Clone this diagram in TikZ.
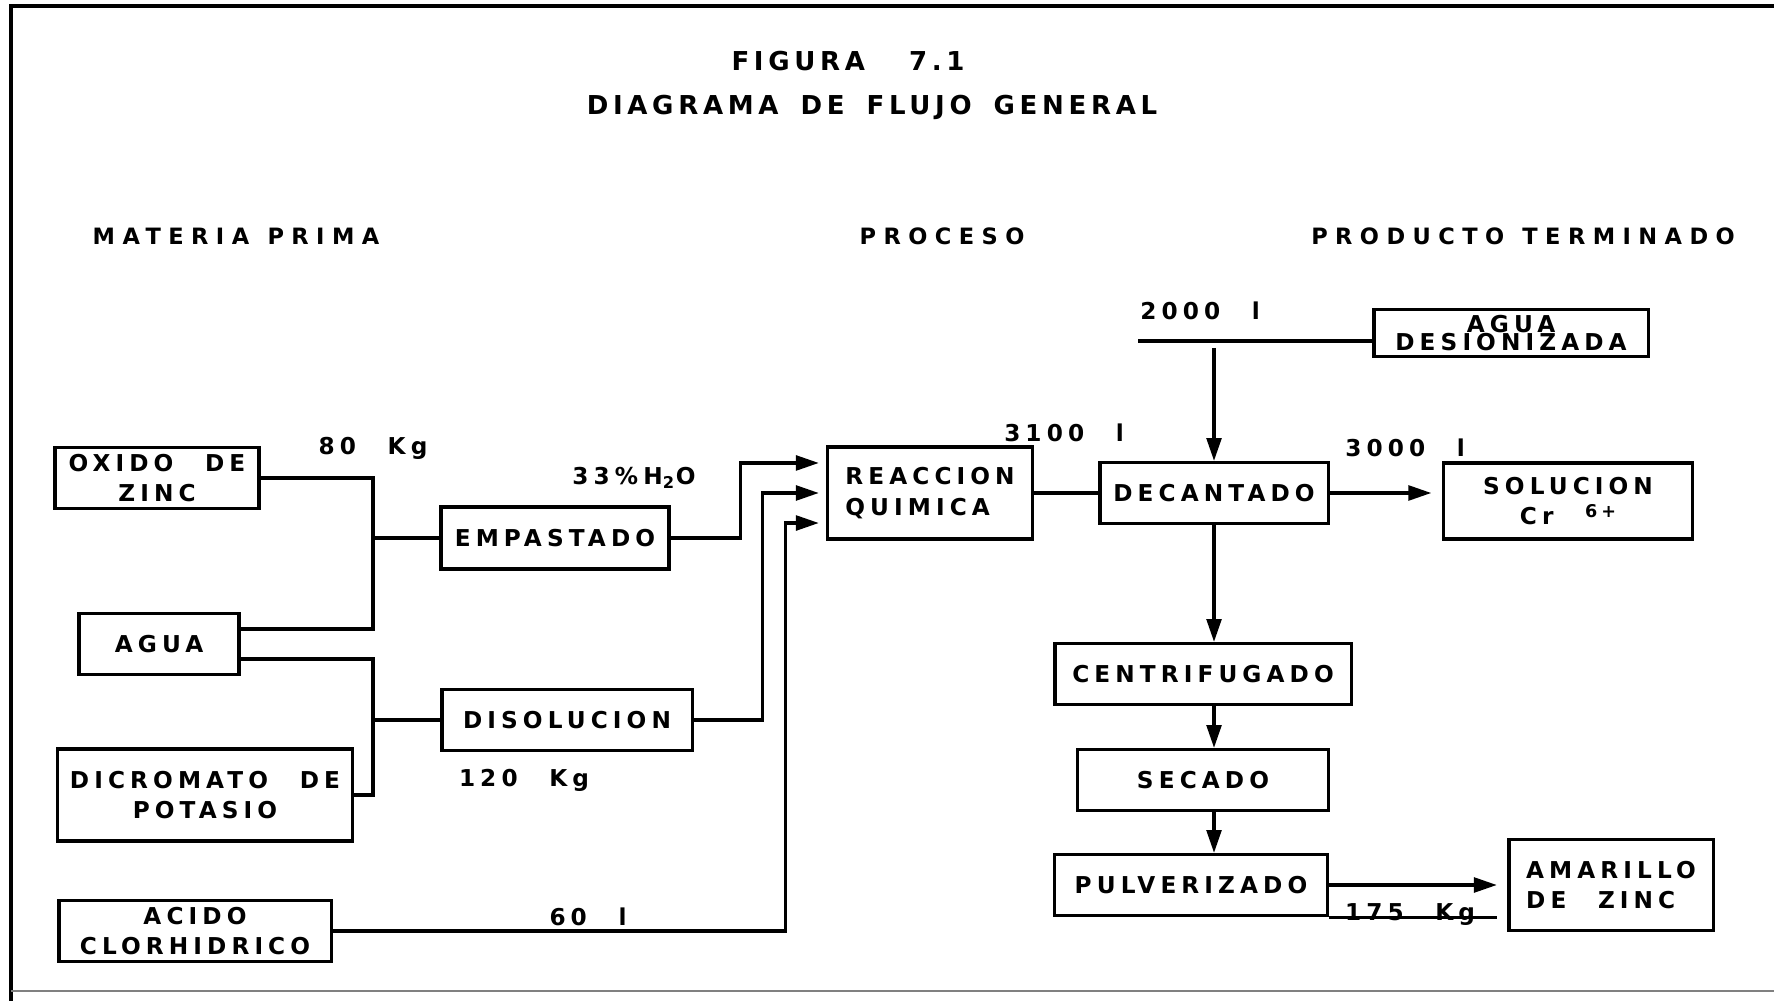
\documentclass[tikz,border=0pt]{standalone}
\usepackage{fontspec}
\usetikzlibrary{arrows.meta}
\newfontfamily\plotfont{DejaVu Sans}[LetterSpace=22, WordSpace=2.4]
\newfontfamily\headfont{DejaVu Sans}[LetterSpace=33, WordSpace=1.2]
\newfontfamily\titlefam{DejaVu Sans}[LetterSpace=18, WordSpace=1.6]
\newcommand{\boxfont}{\plotfont\bfseries\fontsize{6.6}{8.6}\selectfont}
\newcommand{\capfont}{\headfont\bfseries\fontsize{6.4}{8}\selectfont}
\newcommand{\titlefont}{\titlefam\bfseries\fontsize{7.4}{9}\selectfont}
\newcommand{\ionsup}[1]{\raisebox{0.55ex}{\fontsize{5}{6}\selectfont #1}}

\begin{document}
\begin{tikzpicture}[
    x=0.01cm, y=-0.01cm,
    unit/.style={draw, line width=0.9pt, inner sep=0pt, font=\boxfont, align=center},
    line/.style={line width=0.9pt},
    arr/.style={line, -{Triangle[length=6.5pt, width=4.2pt]}},
    qty/.style={font=\boxfont},
    head/.style={font=\capfont},
]
\useasboundingbox (0,0) rectangle (1774,1001);

% ── Frame ──
\draw[line width=1pt] (11,1001) -- (11,6) -- (1774,6);
\draw[gray, line width=0.5pt] (11,991) -- (1774,991);

% ── Titles ──
\node[font=\titlefont] (fig) at (848,61) {FIGURA\ \ 7.1};
\node[font=\titlefont] (title) at (872,107) {DIAGRAMA DE FLUJO GENERAL};

\node[head] (hraw) at (236,236) {MATERIA PRIMA};
\node[head] (hproc) at (942,236) {PROCESO};
\node[head] (hprod) at (1523,236) {PRODUCTO TERMINADO};

% ── Materia prima ──
\node[unit, minimum width=2.04cm, minimum height=0.61cm] (oxido) at (157,478) {OXIDO DE\\ZINC};
\node[unit, minimum width=1.60cm, minimum height=0.61cm] (agua) at (159,644) {AGUA};
\node[unit, minimum width=2.94cm, minimum height=0.92cm] (dicromato) at (205,795) {DICROMATO DE\\POTASIO};
\node[unit, minimum width=2.72cm, minimum height=0.61cm] (acido) at (195,931) {ACIDO\\CLORHIDRICO};

% ── Proceso ──
\node[unit, minimum width=2.28cm, minimum height=0.62cm] (empastado) at (555,538) {EMPASTADO};
\node[unit, minimum width=2.50cm, minimum height=0.61cm] (disolucion) at (567,720) {DISOLUCION};
\node[unit, align=left, minimum width=2.05cm, minimum height=0.92cm] (reaccion) at (930,493) {REACCION\\QUIMICA};
\node[unit, minimum width=2.28cm, minimum height=0.61cm] (decantado) at (1214,493) {DECANTADO};
\node[unit, minimum width=2.96cm, minimum height=0.61cm] (centrif) at (1203,674) {CENTRIFUGADO};
\node[unit, minimum width=2.51cm, minimum height=0.61cm] (secado) at (1203,780) {SECADO};
\node[unit, minimum width=2.73cm, minimum height=0.61cm] (pulver) at (1191,885) {PULVERIZADO};

% ── Producto terminado ──
\node[unit, minimum width=2.74cm, minimum height=0.47cm] (desion) at (1511,333) {AGUA\\[-3.4pt]DESIONIZADA};
\node[unit, minimum width=2.49cm, minimum height=0.76cm] (solucion) at (1568,501) {SOLUCION\\Cr \ionsup{6+}};
\node[unit, align=left, minimum width=2.04cm, minimum height=0.91cm] (amarillo) at (1611,885) {AMARILLO\\DE ZINC};

% ── Mixing lines ──
\coordinate (mixA) at (373,538);
\coordinate (mixB) at (373,720);
\draw[line] (oxido.east) -| (mixA) |- ([yshift=0.15cm]agua.east);
\draw[line] (mixA) -- (empastado.west);
\draw[line] ([yshift=-0.15cm]agua.east) -| (mixB) |- (dicromato.east);
\draw[line] (mixB) -- (disolucion.west);

% ── Feeds to reactor ──
\draw[arr] (empastado.east) -- ++(70,0) |- ([xshift=-2pt, yshift=0.3cm]reaccion.west);
\draw[arr] (disolucion.east) -- ++(69,0) |- ([xshift=-2pt]reaccion.west);
\draw[arr] (acido.east) -- ++(453,0) |- ([xshift=-2pt, yshift=-0.3cm]reaccion.west);
\draw[line] (reaccion.east) -- (decantado.west);

% ── Water and separation ──
\coordinate (feed) at (1138,341);
\coordinate (drop) at (1214,348);
\draw[line] (feed) -- (feed -| desion.west);
\draw[arr] (drop) -- (decantado.north);
\draw[arr] (decantado.east) -- ([xshift=-3pt]decantado.east -| solucion.west);
\draw[arr] (decantado.south) -- (decantado.south |- centrif.north);
\draw[arr] (decantado.south |- centrif.south) -- (decantado.south |- secado.north);
\draw[arr] (decantado.south |- secado.south) -- (decantado.south |- pulver.north);
\draw[arr] (pulver.east) -- ([xshift=-3pt]amarillo.west);
\draw[line] (pulver.south east) -- ([xshift=-3pt]pulver.south east -| amarillo.west);

% ── Quantities ──
\node[qty] (q80) at (373,448) {80 Kg};
\node[qty] (qh2o) at (634,478) {33\%H\textsubscript{2}O};
\node[qty] (q120) at (524,780) {120 Kg};
\node[qty] (q60) at (588,917) {60 l};
\node[qty] (q2000) at (1200,311) {2000 l};
\node[qty] (q3100) at (1064,433) {3100 l};
\node[qty] (q3000) at (1405,448) {3000 l};
\node[qty] (q175) at (1410,915) {175 Kg};

\end{tikzpicture}
\end{document}
